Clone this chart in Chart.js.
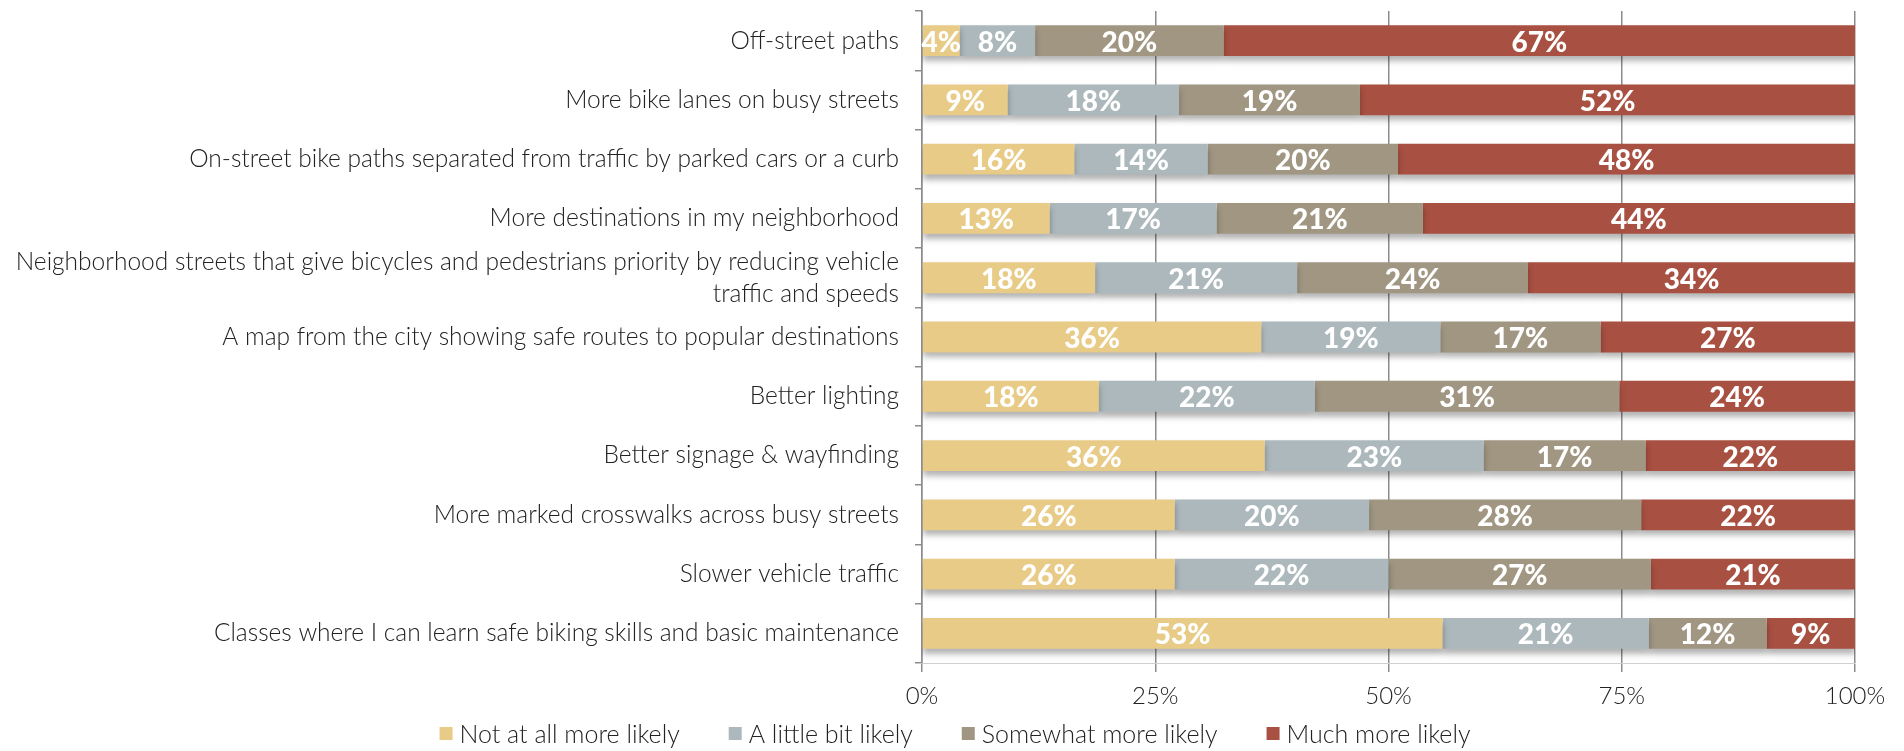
<!DOCTYPE html>
<html>
<head>
<meta charset="utf-8">
<script src="https://cdn.jsdelivr.net/npm/chart.js@4/dist/chart.umd.min.js"></script>
<style>
  html, body { margin: 0; padding: 0; background: #fff; }
  #wrap { width: 1904px; height: 751px; position: relative; }
</style>
</head>
<body>
<div id="wrap"><canvas id="chart"></canvas></div>
<script>
const categories = [
  'Off-street paths',
  'More bike lanes on busy streets',
  'On-street bike paths separated from traffic by parked cars or a curb',
  'More destinations in my neighborhood',
  ['Neighborhood streets that give bicycles and pedestrians priority by reducing vehicle', 'traffic and speeds'],
  'A map from the city showing safe routes to popular destinations',
  'Better lighting',
  'Better signage & wayfinding',
  'More marked crosswalks across busy streets',
  'Slower vehicle traffic',
  'Classes where I can learn safe biking skills and basic maintenance'
];

const notAtAll   = [4, 9, 16, 13, 18, 36, 18, 36, 26, 26, 53];
const littleBit  = [8, 18, 14, 17, 21, 19, 22, 23, 20, 22, 21];
const somewhat   = [20, 19, 20, 21, 24, 17, 31, 17, 28, 27, 12];
const muchMore   = [67, 52, 48, 44, 34, 27, 24, 22, 22, 21, 9];

const seriesNames = ['Not at all more likely', 'A little bit likely', 'Somewhat more likely', 'Much more likely'];
const seriesColors = ['#e8cb87', '#acb8bc', '#a09682', '#a85041'];
const xTicks = [0, 25, 50, 75, 100];

// bars are drawn as 100% stacked, labels keep the raw values
const raw = [notAtAll, littleBit, somewhat, muchMore];
const totals = categories.map((_, i) => raw.reduce((s, arr) => s + arr[i], 0));
const shares = raw.map(arr => arr.map((v, i) => v / totals[i] * 100));

const FONT = 'Lato, "Open Sans", sans-serif';

const shadowPlugin = {
  id: 'barShadow',
  beforeDatasetsDraw(chart) {
    const ctx = chart.ctx;
    ctx.save();
    ctx.shadowColor = 'rgba(0,0,0,0.3)';
    ctx.shadowBlur = 6;
    ctx.shadowOffsetY = 5;
  },
  afterDatasetsDraw(chart) {
    chart.ctx.restore();
  }
};

const valueLabels = {
  id: 'valueLabels',
  afterDatasetsDraw(chart) {
    const ctx = chart.ctx;
    ctx.save();
    ctx.fillStyle = '#ffffff';
    ctx.font = '900 28px ' + FONT;
    ctx.textAlign = 'center';
    ctx.textBaseline = 'middle';
    chart.data.datasets.forEach((ds, di) => {
      const meta = chart.getDatasetMeta(di);
      meta.data.forEach((bar, i) => {
        const cx = (bar.x + bar.base) / 2;
        ctx.fillText(raw[di][i] + '%', cx, bar.y + 2);
      });
    });
    ctx.restore();
  }
};

// legend drawn by hand so the gaps between items can be wider than its line height
const bottomLegend = {
  id: 'bottomLegend',
  afterDraw(chart) {
    const ctx = chart.ctx;
    const box = 13, gapText = 7, gapItem = 49, y = 735;
    ctx.save();
    ctx.font = '300 25px ' + FONT;
    ctx.textBaseline = 'middle';
    const widths = seriesNames.map(t => ctx.measureText(t).width);
    const total = widths.reduce((s, w) => s + box + gapText + w, 0) + gapItem * (seriesNames.length - 1);
    let x = (chart.width - total) / 2 + 3;
    seriesNames.forEach((name, i) => {
      ctx.fillStyle = seriesColors[i];
      ctx.fillRect(x, y - 8, box, box);
      ctx.fillStyle = '#222';
      ctx.fillText(name, x + box + gapText, y);
      x += box + gapText + widths[i] + gapItem;
    });
    ctx.restore();
  }
};

new Chart(document.getElementById('chart'), {
  type: 'bar',
  data: {
    labels: categories,
    datasets: seriesNames.map((name, k) => ({
      label: name,
      data: shares[k],
      backgroundColor: seriesColors[k],
      borderWidth: 0,
      categoryPercentage: 1,
      barPercentage: 0.52
    }))
  },
  options: {
    indexAxis: 'y',
    responsive: true,
    maintainAspectRatio: false,
    animation: false,
    layout: { padding: { top: 11, right: 49, left: 0, bottom: 40 } },
    scales: {
      x: {
        stacked: true,
        min: 0,
        max: 100,
        afterBuildTicks(scale) {
          scale.ticks = xTicks.map(v => ({ value: v }));
        },
        afterFit(scale) {
          scale.height = 48;
          scale.paddingLeft = 0;
          scale.paddingRight = 0;
        },
        grid: { color: '#8c8c8c', lineWidth: 1.5, tickLength: 9, drawTicks: true },
        border: { display: true, color: '#d0d0d0', width: 1 },
        ticks: {
          callback: v => v + '%',
          color: '#222',
          padding: 10,
          font: { family: FONT, size: 24, weight: 300 }
        }
      },
      y: {
        stacked: true,
        afterFit(scale) {
          scale.width = 922;
          scale.paddingTop = 0;
          scale.paddingBottom = 0;
        },
        grid: { drawOnChartArea: false, color: '#8c8c8c', lineWidth: 1.5, tickLength: 7, offset: true },
        border: { display: true, color: '#8c8c8c', width: 1.5 },
        ticks: {
          color: '#222',
          padding: 16,
          autoSkip: false,
          font: { family: FONT, size: 24.5, weight: 300, lineHeight: 1.3 }
        }
      }
    },
    plugins: {
      legend: { display: false },
      tooltip: { enabled: false }
    }
  },
  plugins: [shadowPlugin, valueLabels, bottomLegend]
});
</script>
</body>
</html>
